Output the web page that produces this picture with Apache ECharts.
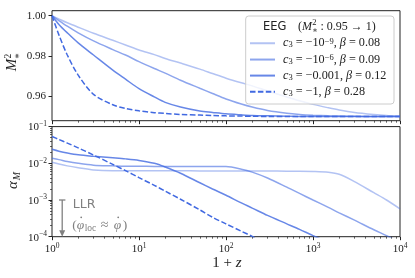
<!DOCTYPE html>
<html><head><meta charset="utf-8">
<script src="https://cdn.jsdelivr.net/npm/echarts@6/dist/echarts.min.js"></script>
<style>html,body{margin:0;padding:0;background:#fff}#c{width:415px;height:278px}</style>
</head><body><div id="c"></div>
<script>
// ---- data ----
const zGrid = [1,1.2,1.5,2,3,5,7,10,15,20,30,50,70,100,150,200,300,500,700,1000,1500,2000,3000,5000,7000,10000];
const seriesNames = ['c3=-1e-9, beta=0.08','c3=-1e-6, beta=0.09','c3=-0.001, beta=0.12','c3=-1, beta=0.28'];
// top panel: M*^2
const m2_c1 = [1.000,0.9984,0.9965,0.9943,0.9913,0.9878,0.9855,0.983,0.9807,0.9788,0.9765,0.9735,0.9713,0.969,0.9667,0.9652,0.9627,0.9597,0.9578,0.956,0.9543,0.9532,0.952,0.951,0.9505,0.9502];
const m2_c2 = [1.000,0.9976,0.9948,0.9915,0.9875,0.9832,0.9805,0.9772,0.9738,0.9715,0.968,0.964,0.9614,0.9587,0.9562,0.9547,0.953,0.9516,0.951,0.9506,0.9503,0.9502,0.9501,0.95,0.95,0.95];
const m2_c3 = [1.000,0.9957,0.9915,0.9865,0.9805,0.973,0.9685,0.9638,0.9597,0.957,0.9547,0.9527,0.952,0.9513,0.9508,0.9505,0.9503,0.9501,0.95,0.95,0.95,0.95,0.95,0.95,0.95,0.95];
const m2_c4 = [1.000,0.9905,0.9805,0.9705,0.961,0.9558,0.954,0.9528,0.9519,0.9515,0.951,0.9507,0.9505,0.9503,0.9502,0.9501,0.95,0.95,0.95,0.95,0.95,0.95,0.95,0.95,0.95,0.95];
// bottom panel: alpha_M
const aM_c1 = [0.0107,0.00955,0.00851,0.00759,0.00661,0.0063,0.0063,0.0063,0.0063,0.0063,0.0063,0.0062,0.0062,0.0062,0.0062,0.0062,0.0062,0.0061,0.0061,0.006,0.00569,0.00501,0.00316,0.00158,0.001,0.000575];
const aM_c2 = [0.01365,0.0126,0.0112,0.0100,0.00891,0.00851,0.00832,0.00832,0.0082,0.0082,0.0082,0.0082,0.0082,0.00813,0.00692,0.00575,0.00398,0.00224,0.00151,0.0010,0.00063,0.000447,0.000282,0.000155,0.000107,0.0000708];
const aM_c3 = [0.024,0.0214,0.0191,0.0170,0.0155,0.0141,0.0132,0.0120,0.0100,0.00794,0.00537,0.00295,0.0020,0.00135,0.000832,0.000603,0.00038,0.000224,0.000158,0.000107,0.0000708,null,null,null,null,null];
const aM_c4 = [0.0537,0.0447,0.0355,0.0263,0.0168,0.00933,0.0063,0.00407,0.00251,0.00174,0.00105,0.000537,0.000339,0.000224,0.000141,0.000102,0.000063,null,null,null,null,null,null,null,null,null];
const yTopTicks = [0.96, 0.98, 1.00];
const xDecades = [1, 10, 100, 1000, 10000];
const yBotDecades = [1e-4, 1e-3, 1e-2, 1e-1];
const legendRich = [
  '{i|c}{sb|3}{n| = −10}{sp|−9}{n|, }{i|β}{n| = 0.08}',
  '{i|c}{sb|3}{n| = −10}{sp|−6}{n|, }{i|β}{n| = 0.09}',
  '{i|c}{sb|3}{n| = −0.001, }{i|β}{n| = 0.12}',
  '{i|c}{sb|3}{n| = −1, }{i|β}{n| = 0.28}'
];

// ---- styles ----
const SERIF = "'Liberation Serif', 'DejaVu Serif', serif";
const SANS = "'DejaVu Sans', sans-serif";
const colors = ['rgba(65,105,225,0.4)','rgba(65,105,225,0.6)','rgba(65,105,225,0.8)','rgba(65,105,225,1)'];
const FRAME = '#222';

function decLabel(v){
  const e = Math.round(Math.log10(v));
  return '{b|10}{s|' + String(e).replace('-', '−') + '}';
}
const decRich = {
  b:{fontFamily:SERIF, fontSize:11, color:FRAME, lineHeight:13, verticalAlign:'bottom'},
  s:{fontFamily:SERIF, fontSize:7.5, color:FRAME, lineHeight:9, verticalAlign:'top'}
};
const minorLog = (lo, hi) => { const r=[]; for(let n=lo;n<hi;n++){ for(let k=2;k<=9;k++) r.push(n+Math.log10(k)); } return r; };

const chart = echarts.init(document.getElementById('c'));
const G0 = {left:52, top:10.7, width:348, height:110};
const G1 = {left:52, top:126.6, width:348, height:110.1};

function mkSeries(arr, i, xi, yi){
  return {
    name: seriesNames[i], type:'line', xAxisIndex:xi, yAxisIndex:yi,
    data: zGrid.map((z,k)=>[z, arr[k]]),
    symbol:'none', smooth:0.3, connectNulls:false, clip:true,
    lineStyle:{color:colors[i], width:1.5, type: i===3 ? [5.5,2.4] : 'solid'},
    itemStyle:{color:colors[i]}
  };
}
const hideAx = {axisLine:{show:false}, splitLine:{show:false}};

const option = {
  animation:false,
  grid:[
    Object.assign({show:true, borderColor:FRAME, borderWidth:1}, G0),
    Object.assign({show:true, borderColor:FRAME, borderWidth:1}, G1)
  ],
  xAxis:[
    Object.assign({type:'log', gridIndex:0, min:1, max:10000, interval:1, position:'bottom',
      axisTick:{show:true, length:3.5, lineStyle:{color:FRAME}}, axisLabel:{show:false}}, hideAx),
    Object.assign({type:'log', gridIndex:1, min:1, max:10000, interval:1, position:'bottom',
      axisTick:{show:true, length:3.5, lineStyle:{color:FRAME}},
      axisLabel:{show:true, margin:5, formatter:decLabel, rich:decRich}}, hideAx),
    Object.assign({type:'value', gridIndex:0, min:0, max:4, position:'bottom',
      axisTick:{show:true, length:2, customValues:minorLog(0,4), lineStyle:{color:FRAME, width:0.7}}, axisLabel:{show:false}}, hideAx),
    Object.assign({type:'value', gridIndex:1, min:0, max:4, position:'bottom',
      axisTick:{show:true, length:2, customValues:minorLog(0,4), lineStyle:{color:FRAME, width:0.7}}, axisLabel:{show:false}}, hideAx)
  ],
  yAxis:[
    Object.assign({type:'value', gridIndex:0, min:0.9479, max:1.0025, position:'left',
      axisTick:{show:true, length:3.5, customValues:yTopTicks, lineStyle:{color:FRAME}},
      axisLabel:{show:true, margin:6, customValues:yTopTicks, formatter:v=>v.toFixed(2),
        fontFamily:SERIF, fontSize:11, color:FRAME}}, hideAx),
    Object.assign({type:'log', gridIndex:1, min:1e-4, max:1e-1, interval:1, position:'left',
      axisTick:{show:true, length:3.5, lineStyle:{color:FRAME}},
      axisLabel:{show:true, margin:5, formatter:decLabel, rich:decRich}}, hideAx),
    Object.assign({type:'value', gridIndex:1, min:-4, max:-1, position:'left',
      axisTick:{show:true, length:2, customValues:minorLog(-4,-1), lineStyle:{color:FRAME, width:0.7}}, axisLabel:{show:false}}, hideAx)
  ],
  legend:{
    data:seriesNames, orient:'vertical', left:246, top:16, padding:[21,6,7,3],
    itemWidth:25, itemHeight:10, itemGap:3.8, z:20,
    itemStyle:{opacity:0},
    formatter: name => legendRich[seriesNames.indexOf(name)],
    textStyle:{fontFamily:SERIF, fontSize:12, color:FRAME, padding:[0,0,0,3],
      rich:{
        n:{fontFamily:SERIF, fontSize:12.2, color:FRAME, lineHeight:12.5},
        i:{fontFamily:SERIF, fontStyle:'italic', fontSize:12.2, color:FRAME, lineHeight:12.5},
        sb:{fontFamily:SERIF, fontSize:8.5, color:FRAME, lineHeight:8, verticalAlign:'bottom'},
        sp:{fontFamily:SERIF, fontSize:8.5, color:FRAME, lineHeight:8, verticalAlign:'top'}
      }}
  },
  series:[
    mkSeries(m2_c1,0,0,0), mkSeries(m2_c2,1,0,0), mkSeries(m2_c3,2,0,0), mkSeries(m2_c4,3,0,0),
    mkSeries(aM_c1,0,1,1), mkSeries(aM_c2,1,1,1), mkSeries(aM_c3,2,1,1), mkSeries(aM_c4,3,1,1)
  ]
};
chart.setOption(option);

// annotations positioned from data coordinates
const pTop = chart.convertToPixel({xAxisIndex:1, yAxisIndex:1}, [1.31, 1e-3]);
const pBot = chart.convertToPixel({xAxisIndex:1, yAxisIndex:1}, [1.31, 1e-4]);
const GRAY = '#808080';
const ah = 6.5, aw = 3;
const ax = pTop[0], ay = pTop[1];
const t = (x, y, text, size, opts) => Object.assign({type:'text', z:30, x, y,
  style:Object.assign({text, fontFamily:SERIF, fontSize:size, fill:FRAME, align:'left', verticalAlign:'middle'}, opts||{})});
const elements = [
  // legend frame
  {type:'rect', z:10, shape:{x:245.7, y:16, width:148.3, height:88, r:3},
   style:{fill:'rgba(255,255,255,0.8)', stroke:'#cccccc', lineWidth:1}},
  // legend title
  t(263, 26.7, 'EEG', 11.5, {fontFamily:SANS}),
  t(298, 26.7, '(', 12),
  t(302, 26.7, 'M', 12, {fontStyle:'italic'}),
  t(312.3, 23.2, '2', 8.5),
  t(312.3, 30.6, '∗', 8.5),
  t(320.5, 26.7, ': 0.95 → 1)', 12),
  // LLR arrow
  {type:'line', z:30, shape:{x1:pTop[0], y1:pTop[1], x2:pBot[0], y2:pBot[1]-ah+0.5}, style:{stroke:GRAY, lineWidth:1.3}},
  {type:'line', z:30, shape:{x1:pTop[0]-3.2, y1:pTop[1], x2:pTop[0]+3.2, y2:pTop[1]}, style:{stroke:GRAY, lineWidth:1.3}},
  {type:'polygon', z:30, shape:{points:[[pBot[0]-aw, pBot[1]-ah],[pBot[0]+aw, pBot[1]-ah],[pBot[0], pBot[1]]]}, style:{fill:GRAY}},
  t(ax+10.5, ay+4.5, 'LLR', 12.5, {fontFamily:SANS, fill:GRAY}),
  t(ax+10, ay+25, '(', 13.5, {fill:GRAY}),
  t(ax+14.5, ay+25, 'φ', 13.5, {fill:GRAY, fontStyle:'italic'}),
  {type:'circle', z:30, shape:{cx:ax+19, cy:ay+17.3, r:0.9}, style:{fill:GRAY}},
  t(ax+22.5, ay+28.5, 'loc', 9.5, {fill:GRAY}),
  t(ax+38.5, ay+25, '≈', 14, {fill:GRAY}),
  t(ax+51.5, ay+25, 'φ', 13.5, {fill:GRAY, fontStyle:'italic'}),
  {type:'circle', z:30, shape:{cx:ax+56, cy:ay+17.3, r:0.9}, style:{fill:GRAY}},
  t(ax+60.5, ay+25, ')', 13.5, {fill:GRAY}),
  // axis titles
  {type:'group', x:12.5, y:62, rotation:Math.PI/2, children:[
    {type:'text', x:-3, y:0, style:{text:'M', fontFamily:SERIF, fontStyle:'italic', fontSize:15, fill:FRAME, align:'center', verticalAlign:'middle'}},
    {type:'text', x:6, y:-4, style:{text:'2', fontFamily:SERIF, fontSize:9.5, fill:FRAME, align:'center', verticalAlign:'middle'}},
    {type:'text', x:6, y:4.5, style:{text:'∗', fontFamily:SERIF, fontSize:9.5, fill:FRAME, align:'center', verticalAlign:'middle'}}
  ]},
  {type:'group', x:13, y:182, rotation:Math.PI/2, children:[
    {type:'text', x:-3, y:0, style:{text:'α', fontFamily:SERIF, fontStyle:'italic', fontSize:15, fill:FRAME, align:'center', verticalAlign:'middle'}},
    {type:'text', x:6, y:4, style:{text:'M', fontFamily:SERIF, fontStyle:'italic', fontSize:10, fill:FRAME, align:'center', verticalAlign:'middle'}}
  ]},
  {type:'text', x:227, y:263, style:{text:'{n|1 + }{i|z}', align:'center', verticalAlign:'middle',
    rich:{n:{fontFamily:SERIF, fontSize:15, fill:FRAME}, i:{fontFamily:SERIF, fontStyle:'italic', fontSize:15, fill:FRAME}}}}
];
chart.setOption({graphic:{elements}});
</script>
</body></html>
